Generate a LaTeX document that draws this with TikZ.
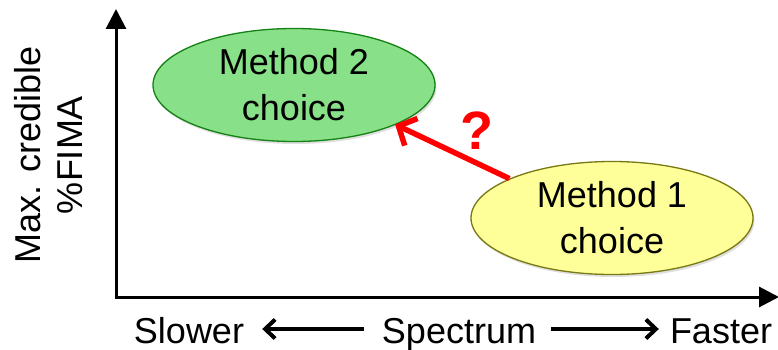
\documentclass[tikz,border=0pt]{standalone}
\usepackage{fontspec}
\setmainfont{Liberation Sans}
\usetikzlibrary{arrows.meta,shapes.geometric,shadows}
\definecolor{mgreen}{RGB}{136,224,136}
\definecolor{mgreenb}{RGB}{20,130,20}
\definecolor{myellow}{RGB}{255,255,153}
\definecolor{myellowb}{RGB}{120,120,20}
\tikzset{
  axis/.style={line width=3pt,-{Triangle[length=20pt,width=20pt]}},
  blob/.style={ellipse,minimum width=282pt,minimum height=113pt,inner sep=0pt,line width=1.3pt,
    align=center,font=\fontsize{36}{46}\selectfont,
    drop shadow={shadow xshift=1.5pt,shadow yshift=-2.5pt,opacity=0.25}},
  lbl/.style={inner sep=0pt,font=\fontsize{36}{42}\selectfont},
  spec/.style={line width=4pt,-{Straight Barb[length=10pt,width=19pt]}},
  qarrow/.style={red,line width=5.5pt,-{Straight Barb[length=14pt,width=30pt]}}
}
\begin{document}
\begin{tikzpicture}[x=1pt,y=-1pt]
\useasboundingbox (0,0) rectangle (778,350);
\coordinate (ytop) at (116,9);
\coordinate (xend) at (779,297);
\coordinate (ylev) at (0,329);
\draw[axis] (116,298.5) -- (ytop);
\draw[axis] (114.5,297) -- (xend);
\node[blob,fill=mgreen,draw=mgreenb] (m2) at (294,85) {Method 2\\choice};
\node[blob,fill=myellow,draw=myellowb] (m1) at (612,218) {Method 1\\choice};
\draw[qarrow] (m1.159) -- ([shift={(1pt,1pt)}]m2.-22);
\node[inner sep=0pt,text=red,font=\bfseries\fontsize{54}{54}\selectfont] (q) at (477,131) {?};
\node[lbl,rotate=90,align=center] (yl) at (49,155) {Max. credible\\\%FIMA};
\node[lbl,anchor=base] (slow) at (189,343) {Slower};
\node[lbl,anchor=base] (spec) at (459,343) {Spectrum};
\node[lbl,anchor=base] (fast) at (721,343) {Faster};
\draw[spec,shorten <=18pt,shorten >=18pt] (spec.west |- ylev) -- (slow.east |- ylev);
\draw[spec,shorten <=15pt,shorten >=11pt] (spec.east |- ylev) -- (fast.west |- ylev);
\end{tikzpicture}
\end{document}
